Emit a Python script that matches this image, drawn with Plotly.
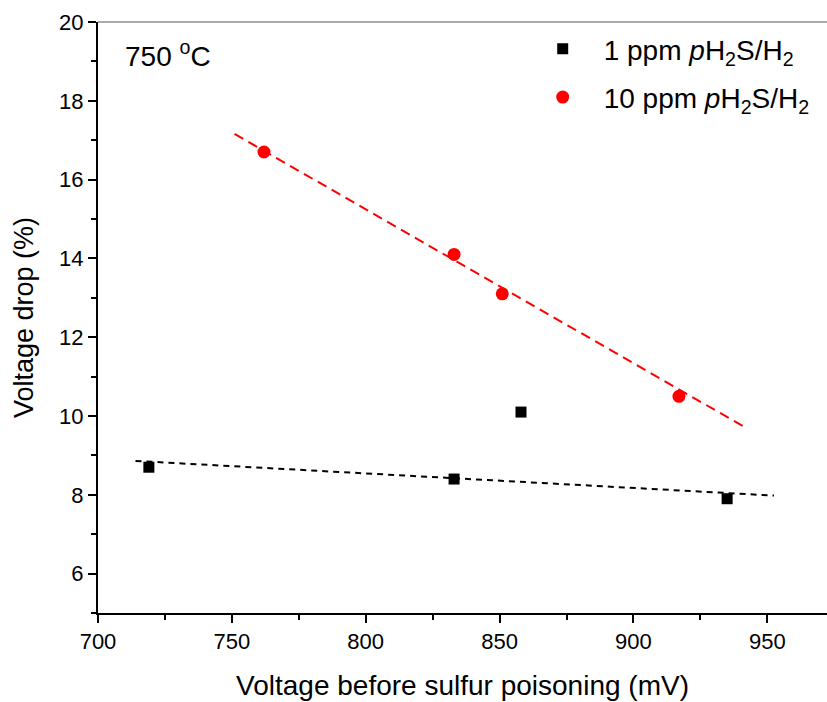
import plotly.graph_objects as go

# Data
x_1ppm = [719, 833, 858, 935]
y_1ppm = [8.7, 8.4, 10.1, 7.9]
x_10ppm = [762, 833, 851, 917]
y_10ppm = [16.7, 14.1, 13.1, 10.5]

# Linear-fit guide lines (endpoints)
fit1_x = [714, 952.5]
fit1_y = [8.86, 7.98]
fit10_x = [751, 942]
fit10_y = [17.16, 9.70]

x_ticks = [700, 750, 800, 850, 900, 950]
y_ticks = [6, 8, 10, 12, 14, 16, 18, 20]

FONT = "Liberation Sans, Arial, sans-serif"

L, R, T, B = 98, 0, 22, 89
W, H = 827, 702
PW = W - L - R
PH = H - T - B

fig = go.Figure()
fig.add_trace(go.Scatter(x=fit1_x, y=fit1_y, mode="lines",
                         line=dict(color="black", width=2, dash="6px,5px"),
                         showlegend=False, hoverinfo="skip"))
fig.add_trace(go.Scatter(x=fit10_x, y=fit10_y, mode="lines",
                         line=dict(color="red", width=2, dash="10px,6px"),
                         showlegend=False, hoverinfo="skip"))
fig.add_trace(go.Scatter(x=x_1ppm, y=y_1ppm, mode="markers", legendgroup="a",
                         marker=dict(symbol="square", size=11, color="black"),
                         name="1 ppm <i>p</i>H<sub>2</sub>S/H<sub>2</sub>"))
fig.add_trace(go.Scatter(x=x_10ppm, y=y_10ppm, mode="markers", legendgroup="b",
                         marker=dict(symbol="circle", size=13, color="red"),
                         name="10 ppm <i>p</i>H<sub>2</sub>S/H<sub>2</sub>"))

fig.update_layout(
    width=W, height=H,
    margin=dict(l=L, r=R, t=T, b=B),
    paper_bgcolor="white", plot_bgcolor="white",
    font=dict(family=FONT, color="black"),
    legend=dict(x=(521.7 - L) / PW, y=1 - 2 / PH, xanchor="left", yanchor="top",
                font=dict(size=28, family=FONT), bgcolor="rgba(0,0,0,0)",
                itemwidth=72, tracegroupgap=9),
    annotations=[dict(text="750 <sup>o</sup>C", x=(123 - L) / PW, y=(T + PH - 54) / PH,
                      xref="paper", yref="paper", xanchor="left", yanchor="middle",
                      showarrow=False, font=dict(size=28, family=FONT))],
)

fig.update_xaxes(range=[700, 972.3], tickvals=x_ticks, ticks="outside", ticklen=8,
                 tickwidth=2, tickcolor="black", showline=True, linewidth=2,
                 linecolor="black", showgrid=False, zeroline=False,
                 tickfont=dict(size=22, family=FONT),
                 minor=dict(dtick=25, tick0=700, ticks="outside", ticklen=5,
                            tickwidth=2, tickcolor="black"),
                 title=dict(text="Voltage before sulfur poisoning (mV)",
                            font=dict(size=28, family=FONT), standoff=22))
fig.update_yaxes(range=[5, 20], tickvals=y_ticks, ticks="outside", ticklen=8,
                 tickwidth=2, tickcolor="black", showline=True, linewidth=2,
                 linecolor="black", showgrid=False, zeroline=False,
                 tickfont=dict(size=22, family=FONT),
                 minor=dict(dtick=1, tick0=5, ticks="outside", ticklen=5,
                            tickwidth=2, tickcolor="black"),
                 title=dict(text="Voltage drop (%)",
                            font=dict(size=27, family=FONT), standoff=18))

# thin top frame line
fig.add_shape(type="line", xref="paper", yref="paper", x0=0, x1=1, y0=1, y1=1,
              line=dict(color="#555555", width=1))

fig.write_html("out.html", config={"displayModeBar": False},
               post_script="document.body.style.margin='0px';document.body.style.overflow='hidden';")
